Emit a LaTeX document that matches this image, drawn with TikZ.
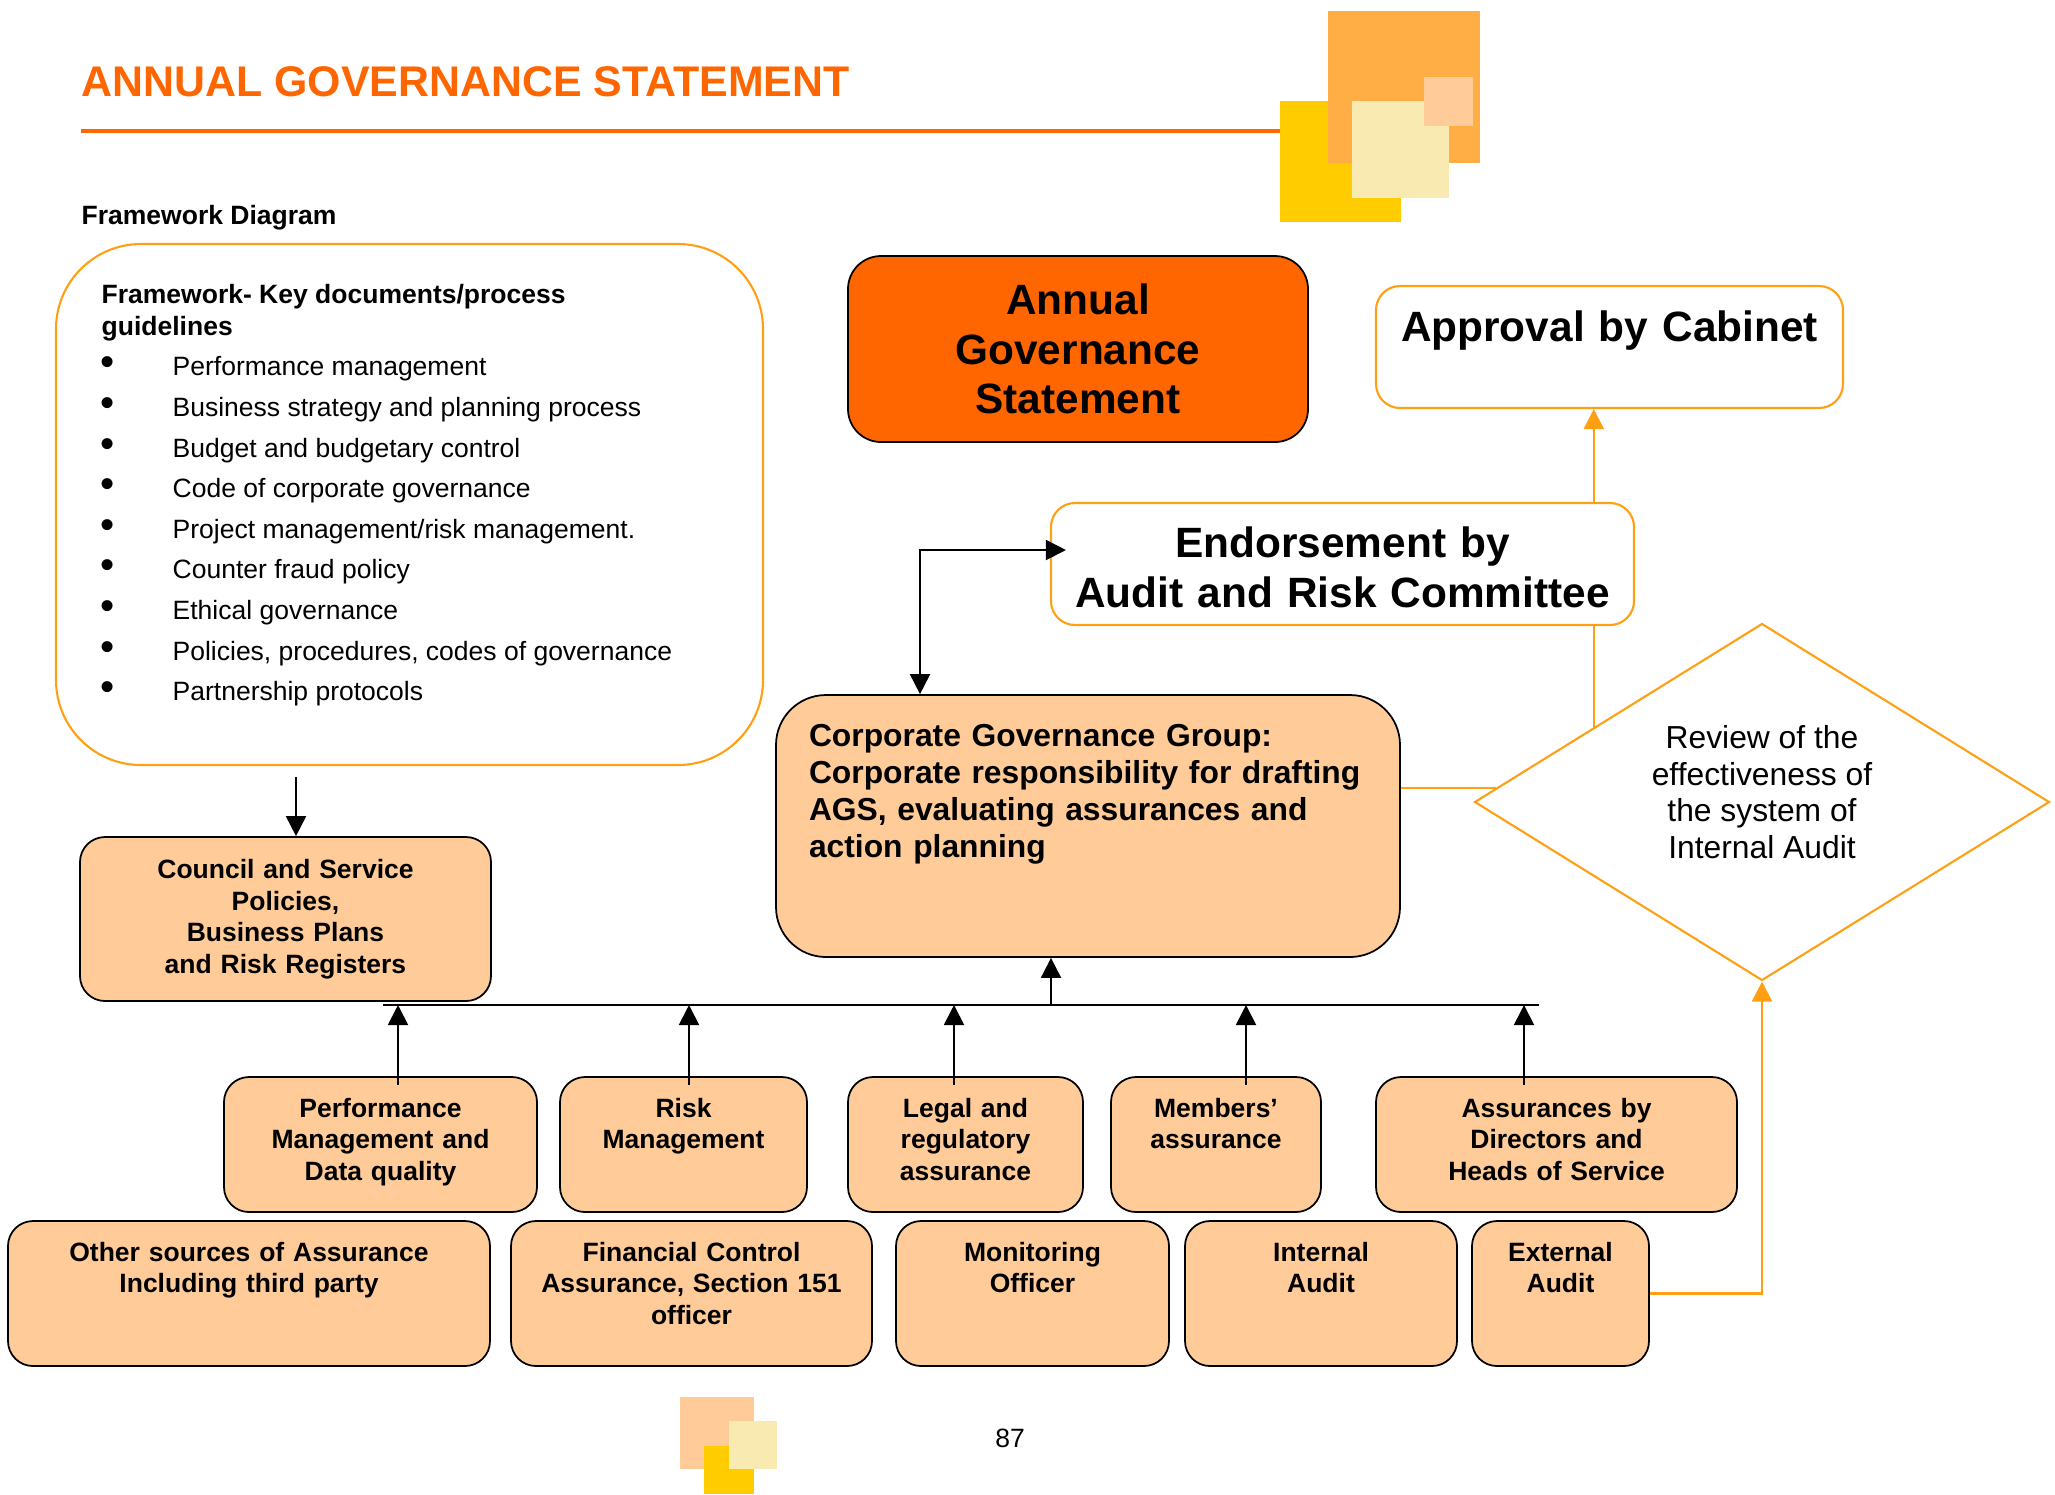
\documentclass[tikz,border=0pt]{standalone}
\usepackage{fontspec}
\setmainfont{Liberation Sans}
\usepackage{tikz}
\usetikzlibrary{shapes.geometric, positioning, arrows.meta}
\definecolor{AGSOrange}{RGB}{255,102,0}
\definecolor{AGSAmber}{RGB}{255,160,20}
\definecolor{AGSPeach}{RGB}{255,204,153}
\definecolor{AGSGold}{RGB}{255,204,0}
\definecolor{AGSSand}{RGB}{255,173,69}
\definecolor{AGSCream}{RGB}{249,234,178}
\newcommand{\fwitem}[1]{\makebox[0.72cm][l]{\fontsize{11.5}{10}\selectfont\textbullet}#1}

\begin{document}
\begin{tikzpicture}[
            pbx/.style={rectangle, rounded corners=0.25cm, draw=black, line width=0.5pt,
                        fill=AGSPeach, inner sep=0.1cm, align=center,
                        font=\bfseries\fontsize{7.54}{9}\selectfont},
            toprow/.style={pbx, text height=0.30cm, text depth=0.85cm},
            botrow/.style={pbx, text height=0.30cm, text depth=0.95cm},
            obx/.style={rectangle, rounded corners=0.24cm, draw=AGSAmber, line width=0.6pt,
                        fill=white, inner sep=0.1cm, align=center,
                        font=\bfseries\fontsize{12.06}{14.17}\selectfont},
            arr/.style={-{Triangle[length=2mm, width=2mm]}, draw=black, line width=0.55pt},
            darr/.style={{Triangle[length=2mm, width=2mm]}-{Triangle[length=2mm, width=2mm]},
                         draw=black, line width=0.55pt},
            oarr/.style={-{Triangle[length=2mm, width=2mm]}, draw=AGSAmber, line width=0.6pt},
            oln/.style={draw=AGSAmber, line width=0.6pt}
          ]
          \useasboundingbox (0,0) rectangle (20.55,-14.94);

          % page heading
          \node[anchor=base west, inner sep=0, text=AGSOrange,
                font=\bfseries\fontsize{12.2}{14}\selectfont] (title) at (0.81,-0.965)
                {ANNUAL GOVERNANCE STATEMENT};
          \draw[AGSOrange, line width=0.9pt] (0.81,-1.31) -- (12.80,-1.31);
          \fill[AGSGold]  (12.80,-1.01) rectangle (14.01,-2.22);
          \fill[AGSSand]  (13.28,-0.11) rectangle (14.80,-1.63);
          \fill[AGSCream] (13.52,-1.01) rectangle (14.49,-1.98);
          \fill[AGSPeach] (14.24,-0.77) rectangle (14.73,-1.26);

          % framework documents
          \node[anchor=base west, inner sep=0, font=\bfseries\fontsize{7.54}{9}\selectfont]
                (fwlabel) at (0.81,-2.245) {Framework Diagram};
          \node[draw=AGSAmber, line width=0.6pt, rounded corners=0.85cm,
                minimum width=7.07cm, minimum height=5.21cm] (fw) at (4.095,-5.045) {};
          \node[anchor=north west, inner sep=0, align=left,
                font=\bfseries\fontsize{7.54}{8.96}\selectfont] (fwhead) at (1.01,-2.84)
                {Framework- Key documents/process\\guidelines};
          \node[anchor=north west, inner sep=0, align=left,
                font=\fontsize{7.54}{11.55}\selectfont] (fwlist) at (1.00,-3.56)
                {\fwitem{Performance management}\\
                 \fwitem{Business strategy and planning process}\\
                 \fwitem{Budget and budgetary control}\\
                 \fwitem{Code of corporate governance}\\
                 \fwitem{Project management/risk management.}\\
                 \fwitem{Counter fraud policy}\\
                 \fwitem{Ethical governance}\\
                 \fwitem{Policies, procedures, codes of governance}\\
                 \fwitem{Partnership protocols}};

          % statement, approval and review
          \node[rectangle, rounded corners=0.33cm, draw=black, line width=0.5pt,
                fill=AGSOrange, inner sep=0.1cm, text width=4.4cm, minimum height=1.86cm,
                align=center, font=\bfseries\fontsize{12.06}{14.17}\selectfont]
                (ags) at (10.78,-3.49) {Annual\\Governance\\Statement};
          \node[obx, text width=4.47cm, text height=0.45cm, text depth=0.57cm]
                (appr) at (16.095,-3.47) {Approval by Cabinet};
          \node[obx, text width=5.63cm, text height=0.445cm, text depth=0.575cm]
                (endorse) at (13.425,-5.64) {Endorsement by\\Audit and Risk Committee};
          \node[diamond, draw=AGSAmber, line width=0.6pt, fill=white, aspect=1.6,
                inner sep=0pt, minimum width=5.75cm, minimum height=3.57cm]
                (review) at (17.62,-8.02) {};
          \node[align=center, font=\fontsize{9.05}{10.44}\selectfont]
                (reviewtext) at ([yshift=0.1cm]review.center)
                {Review of the\\effectiveness of\\the system of\\Internal Audit};
          \node[pbx, rounded corners=0.5cm, align=left, inner xsep=0.33cm,
                text width=5.58cm, text height=0.41cm, text depth=2.01cm,
                font=\bfseries\fontsize{9.05}{10.56}\selectfont]
                (cgg) at (10.88,-8.26)
                {Corporate Governance Group:\\Corporate responsibility for drafting\\
                 AGS, evaluating assurances and\\action planning};
          \node[pbx, text width=3.91cm, minimum height=1.64cm, font=\bfseries\fontsize{7.54}{8.96}\selectfont]
                (council) at (2.855,-9.19)
                {Council and Service\\Policies,\\Business Plans\\and Risk Registers};

          % sources of assurance
          \node[toprow, text width=2.93cm] (perf)  at (3.805,-11.445) {Performance\\Management and\\Data quality};
          \node[toprow, text width=2.27cm] (risk)  at (6.835,-11.445) {Risk\\Management};
          \node[toprow, text width=2.15cm] (legal) at (9.655,-11.445) {Legal and\\regulatory\\assurance};
          \node[toprow, text width=1.90cm] (memb)  at (12.16,-11.445) {Members’\\assurance};
          \node[toprow, text width=3.41cm] (assur) at (15.565,-11.445) {Assurances by\\Directors and\\Heads of Service};
          \node[botrow, text width=4.62cm] (other) at (2.49,-12.935) {Other sources of Assurance\\Including third party};
          \node[botrow, text width=3.41cm] (fin)   at (6.915,-12.935) {Financial Control\\Assurance, Section 151\\officer};
          \node[botrow, text width=2.53cm] (mon)   at (10.325,-12.935) {Monitoring\\Officer};
          \node[botrow, text width=2.52cm] (ia)    at (13.21,-12.935) {Internal\\Audit};
          \node[botrow, text width=1.57cm] (ea)    at (15.605,-12.935) {External\\Audit};

          % black connectors
          \coordinate (fwout) at (2.96,-7.77);
          \draw[arr] (fwout) -- (fwout |- council.north);
          \coordinate (busL) at (3.83,-10.05);
          \coordinate (busR) at (15.39,-10.05);
          \draw[black, line width=0.75pt] (busL) -- (busR);
          \draw[arr] ([xshift=-0.37cm]cgg.south |- busL) -- ([xshift=-0.37cm]cgg.south);
          \draw[arr] ([xshift=0.175cm, yshift=-0.09cm]perf.north) -- ([xshift=0.175cm]perf.north |- busL);
          \draw[arr] ([xshift=0.055cm, yshift=-0.09cm]risk.north) -- ([xshift=0.055cm]risk.north |- busL);
          \draw[arr] ([xshift=-0.115cm, yshift=-0.09cm]legal.north) -- ([xshift=-0.115cm]legal.north |- busL);
          \draw[arr] ([xshift=0.30cm, yshift=-0.09cm]memb.north) -- ([xshift=0.30cm]memb.north |- busL);
          \draw[arr] ([xshift=-0.325cm, yshift=-0.09cm]assur.north) -- ([xshift=-0.325cm]assur.north |- busL);
          \draw[darr] ([xshift=-1.68cm]cgg.north) |- ([xshift=0.16cm, yshift=0.14cm]endorse.west);

          % orange connectors
          \draw[oln] (review.177) -- (review.177 -| cgg.east);
          \draw[oln] (review.156) -- (review.156 |- endorse.south);
          \draw[oarr] (review.156 |- endorse.north) -- (review.156 |- appr.south);
          \draw[oarr] (ea.east) -| (review.south);

          % page foot
          \fill[AGSPeach] (6.80,-13.97) rectangle (7.54,-14.69);
          \fill[AGSGold]  (7.04,-14.46) rectangle (7.54,-14.94);
          \fill[AGSCream] (7.29,-14.21) rectangle (7.77,-14.69);
          \node[font=\fontsize{7.54}{9}\selectfont] (page) at (10.10,-14.38) {87};
        \end{tikzpicture}
\end{document}
